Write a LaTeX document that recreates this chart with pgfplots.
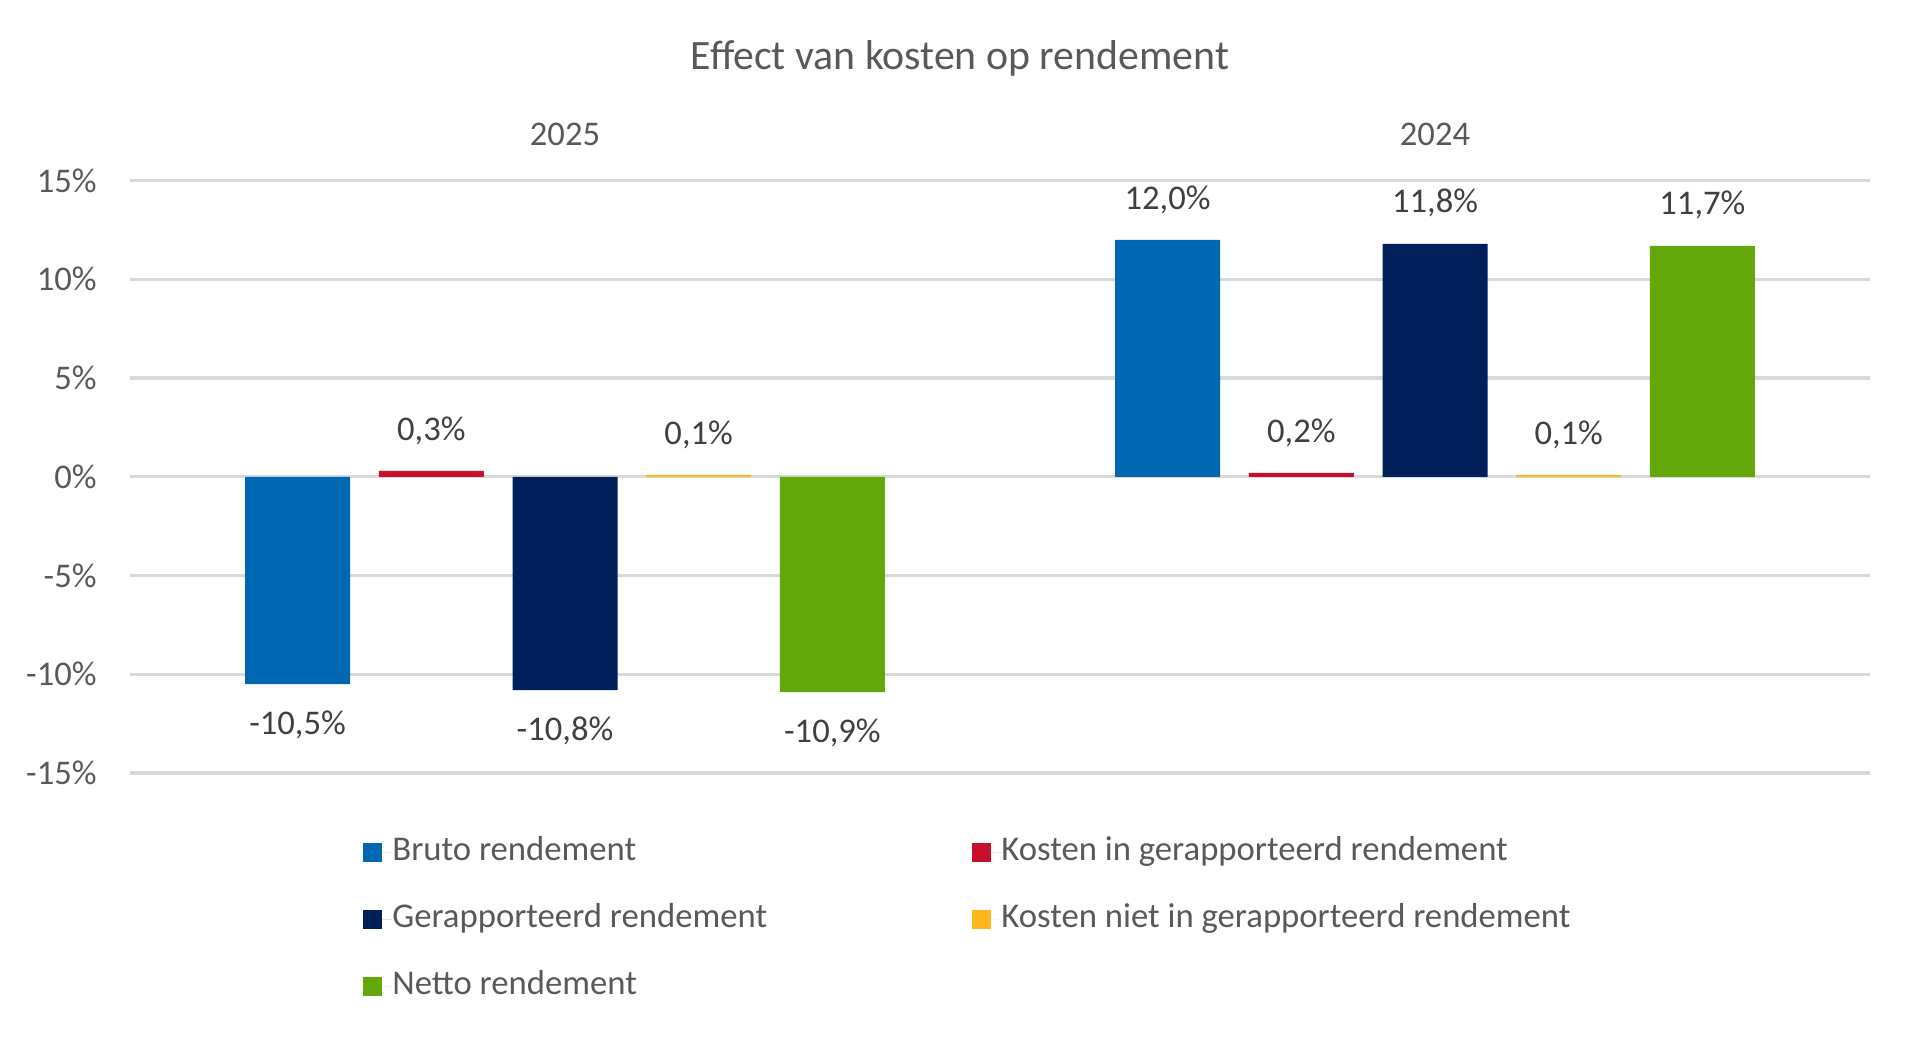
\documentclass[border=0pt]{standalone}
\usepackage{fontspec}
\setmainfont{Carlito}
\usepackage{pgfplots}
\pgfplotsset{compat=1.18}
\definecolor{cblue}{RGB}{0,104,178}
\definecolor{cred}{RGB}{200,16,46}
\definecolor{cnavy}{RGB}{0,31,91}
\definecolor{cyellow}{RGB}{255,184,28}
\definecolor{cgreen}{RGB}{100,167,11}
\definecolor{gridgray}{RGB}{217,217,217}
\definecolor{tickgray}{RGB}{89,89,89}
\definecolor{labgray}{RGB}{64,64,64}
\begin{document}
\begin{tikzpicture}
\path[use as bounding box] (0,0) rectangle (960pt,519.5pt);
\node[text=tickgray,font=\fontsize{20.9}{24}\selectfont] at (480pt,490.25pt) {Effect van kosten op rendement};
\begin{axis}[
  at={(65pt,133pt)}, anchor=south west,
  width=870pt, height=296.2pt, scale only axis,
  xmin=-0.5, xmax=1.5, ymin=-15, ymax=15,
  ybar, bar width=52.5pt,
  xtick={0,1}, xticklabels={2025,2024},
  xticklabel pos=upper,
  xticklabel style={anchor=center, yshift=23pt, text=tickgray, font=\fontsize{17.3}{20}\selectfont},
  ytick={-15,-10,-5,0,5,10,15},
  yticklabels={-15\%,-10\%,-5\%,0\%,5\%,10\%,15\%},
  yticklabel style={anchor=east, inner sep=0pt, xshift=-16.5pt, text=tickgray, font=\fontsize{17.3}{20}\selectfont},
  axis line style={draw=none},
  major tick length=0pt,
  ymajorgrids, grid style={draw=gridgray, line width=1.6pt},
  nodes near coords={\pgfmathprintnumber[fixed,fixed zerofill,precision=1,use comma,assume math mode=true]{\pgfplotspointmeta}\%},
  every node near coord/.append style={text=labgray, font=\fontsize{17.3}{20}\selectfont, inner sep=13pt},
  legend columns=2,
  legend cell align=left,
  legend style={draw=none, fill=none, at={(0,0)}, anchor=north west, xshift=116.5pt, yshift=-31.3pt,
    inner sep=0pt, row sep=17.5pt, column sep=0pt,
    nodes={inner sep=0pt, text height=12pt, text depth=4pt, text=tickgray, font=\fontsize{17.35}{20}\selectfont}},
  legend image code/.code={\fill[#1] (0pt,-4.75pt) rectangle (9.5pt,4.75pt); \path (0pt,0pt) -- (14.5pt,0pt);},
]
\addplot[fill=cblue, draw=none, bar shift=-133.7pt] coordinates {(0,-10.5) (1,12.0)};
\addlegendentry{\makebox[290pt][l]{Bruto rendement}}
\addplot[fill=cred, draw=none, bar shift=-66.85pt] coordinates {(0,0.3) (1,0.2)};
\addlegendentry{\makebox[290pt][l]{Kosten in gerapporteerd rendement}}
\addplot[fill=cnavy, draw=none, bar shift=0pt] coordinates {(0,-10.8) (1,11.8)};
\addlegendentry{\makebox[290pt][l]{Gerapporteerd rendement}}
\addplot[fill=cyellow, draw=none, bar shift=66.85pt] coordinates {(0,0.1) (1,0.1)};
\addlegendentry{\makebox[290pt][l]{Kosten niet in gerapporteerd rendement}}
\addplot[fill=cgreen, draw=none, bar shift=133.7pt] coordinates {(0,-10.9) (1,11.7)};
\addlegendentry{\makebox[290pt][l]{Netto rendement}}
\end{axis}
\end{tikzpicture}
\end{document}
